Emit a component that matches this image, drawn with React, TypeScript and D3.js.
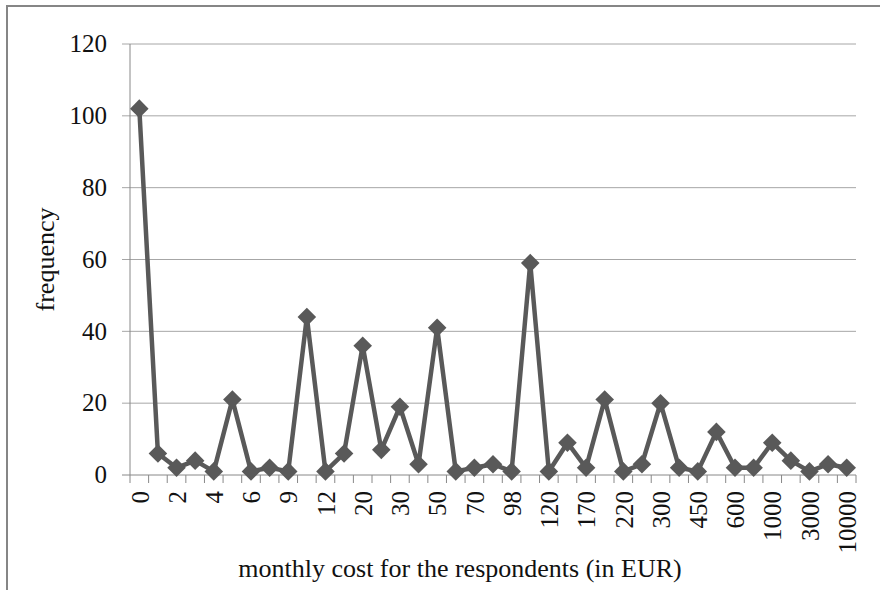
import { useEffect, useRef } from "react";
import * as d3 from "d3";

// cost categories (EUR / month) and how many respondents picked each
const COSTS = [
  "0","1","2","3","4","5","6","8","9","10",
  "12","15","20","25","30","40","50","60","70","80",
  "98","100","120","150","170","200","220","250","300","400",
  "450","500","600","800","1000","2000","3000","5000","10000",
];
const FREQ = [
  102, 6, 2, 4, 1, 21, 1, 2, 1, 44,
  1, 6, 36, 7, 19, 3, 41, 1, 2, 3,
  1, 59, 1, 9, 2, 21, 1, 3, 20, 2,
  1, 12, 2, 2, 9, 4, 1, 3, 2,
];
const Y_TICKS = [0, 20, 40, 60, 80, 100, 120];

const W = 880;
const H = 590;
const M = { left: 130, right: 24, top: 44, bottom: 115 };
const FONT = '"Liberation Serif", "Times New Roman", Times, "DejaVu Serif", serif';

export default function App() {
  const svgRef = useRef<SVGSVGElement>(null);

  useEffect(() => {
    if (!svgRef.current) return;
    const svg = d3.select(svgRef.current);
    svg.selectAll("*").remove();

    const x0 = M.left, x1 = W - M.right;
    const y0 = H - M.bottom, y1 = M.top;

    const x = d3.scaleBand<string>().domain(COSTS).range([x0, x1]);
    const y = d3.scaleLinear().domain([0, 120]).range([y0, y1]);
    const cx = (c: string) => x(c)! + x.bandwidth() / 2;

    // outer frame (cut off at right/bottom like the screenshot)
    svg.append("path")
      .attr("d", `M7,${H} L7,6 L${W},6`)
      .attr("fill", "none")
      .attr("stroke", "#868686")
      .attr("stroke-width", 2);

    // horizontal gridlines + y ticks
    const g = svg.append("g");
    g.selectAll("line.grid")
      .data(Y_TICKS)
      .join("line")
      .attr("x1", x0 - 8)
      .attr("x2", x1)
      .attr("y1", (d) => y(d))
      .attr("y2", (d) => y(d))
      .attr("stroke", (d) => (d === 0 ? "#888" : "#a6a6a6"))
      .attr("stroke-width", 1);

    g.selectAll("text.ytick")
      .data(Y_TICKS)
      .join("text")
      .attr("x", 107)
      .attr("y", (d) => y(d))
      .attr("dy", "0.33em")
      .attr("text-anchor", "end")
      .style("font-family", FONT)
      .style("font-size", "25px")
      .attr("fill", "#111")
      .text((d) => d);

    // y axis line
    g.append("line")
      .attr("x1", x0).attr("x2", x0)
      .attr("y1", y1).attr("y2", y0)
      .attr("stroke", "#888");

    // x tick marks at category boundaries
    const bounds = COSTS.map((c) => x(c)!).concat([x1]);
    g.selectAll("line.xtick")
      .data(bounds)
      .join("line")
      .attr("x1", (d) => d).attr("x2", (d) => d)
      .attr("y1", y0).attr("y2", y0 + 8)
      .attr("stroke", "#888");

    // x labels, every other category
    g.selectAll("text.xlab")
      .data(COSTS.filter((_, i) => i % 2 === 0))
      .join("text")
      .attr("transform", (d) => `translate(${cx(d) + 1},${y0 + 16}) rotate(-90)`)
      .attr("dy", "0.33em")
      .attr("text-anchor", "end")
      .style("font-family", FONT)
      .style("font-size", "25px")
      .attr("fill", "#111")
      .text((d) => d);

    // axis titles
    svg.append("text")
      .attr("transform", `translate(45,${(y0 + y1) / 2}) rotate(-90)`)
      .attr("dy", "0.33em")
      .attr("text-anchor", "middle")
      .style("font-family", FONT)
      .style("font-size", "26px")
      .attr("fill", "#111")
      .text("frequency");

    svg.append("text")
      .attr("x", 460)
      .attr("y", 577)
      .attr("text-anchor", "middle")
      .style("font-family", FONT)
      .style("font-size", "26px")
      .attr("fill", "#111")
      .text("monthly cost for the respondents (in EUR)");

    // series line
    const line = d3.line<number>()
      .x((_, i) => cx(COSTS[i]))
      .y((d) => y(d));

    svg.append("path")
      .datum(FREQ)
      .attr("d", line)
      .attr("fill", "none")
      .attr("stroke", "#595959")
      .attr("stroke-width", 4.5)
      .attr("stroke-linejoin", "round");

    // diamond markers
    const diamond = d3.symbol().type(d3.symbolDiamond2).size(220);
    svg.selectAll("path.mark")
      .data(FREQ)
      .join("path")
      .attr("class", "mark")
      .attr("transform", (d, i) => `translate(${cx(COSTS[i])},${y(d)})`)
      .attr("d", diamond)
      .attr("fill", "#595959");
  }, []);

  return (
    <div style={{ position: "absolute", left: 0, top: 0 }}>
      <svg ref={svgRef} width={W} height={H} style={{ display: "block", background: "#fff" }} />
    </div>
  );
}
